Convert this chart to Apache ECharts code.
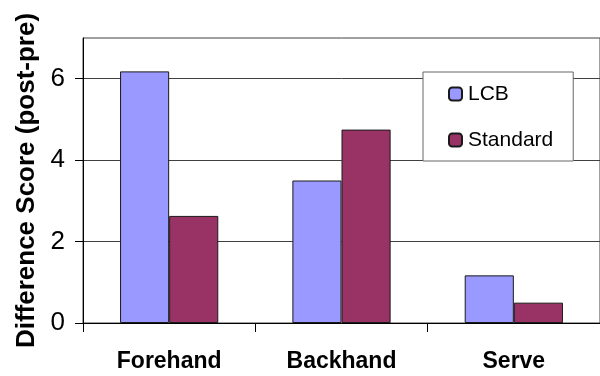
<!DOCTYPE html>
<html>
<head>
<meta charset="utf-8">
<script src="https://cdn.jsdelivr.net/npm/echarts@6/dist/echarts.min.js"></script>
<style>
  html, body { margin: 0; padding: 0; background: #fff; }
  #chart { width: 600px; height: 376px; }
</style>
</head>
<body>
<div id="chart"></div>
<script>
// Skill areas and the mean post-minus-pre score change for each coaching method
const categories = ['Forehand', 'Backhand', 'Serve'];
const lcbScores = [6.18, 3.50, 1.17];
const standardScores = [2.63, 4.75, 0.50];
const yTickValues = [0, 2, 4, 6];

const FONT = '"Liberation Sans", Arial, sans-serif';

const chart = echarts.init(document.getElementById('chart'), null, { renderer: 'canvas' });

chart.setOption({
  animation: false,
  backgroundColor: '#ffffff',
  grid: {
    left: 83, right: -1, top: 38, bottom: 53, containLabel: false,
    show: true, borderColor: '#404040', borderWidth: 1, backgroundColor: 'transparent'
  },
  legend: {
    orient: 'vertical',
    left: 423,
    top: 72,
    padding: [11, 20, 10, 25],
    itemGap: 24,
    itemWidth: 13,
    itemHeight: 13,
    backgroundColor: '#ffffff',
    borderColor: '#666666',
    borderWidth: 1,
    borderRadius: 0,
    textStyle: { fontFamily: FONT, fontSize: 21, color: '#000', lineHeight: 22, padding: [0, 0, 0, 1] },
    data: ['LCB', 'Standard']
  },
  xAxis: {
    type: 'category',
    data: categories,
    axisLine: { lineStyle: { color: '#000', width: 1 } },
    axisTick: { show: true, length: 9, lineStyle: { color: '#000' } },
    axisLabel: {
      fontFamily: FONT, fontSize: 23, fontWeight: 'bold', color: '#000', margin: 27
    },
    splitLine: { show: false }
  },
  yAxis: {
    type: 'value',
    min: 0,
    max: 7,
    interval: 2,
    name: 'Difference Score (post-pre)',
    nameLocation: 'middle',
    nameGap: 38,
    nameRotate: 90,
    nameTextStyle: { fontFamily: FONT, fontSize: 26, fontWeight: 'bold', color: '#000' },
    axisLine: { show: true, lineStyle: { color: '#000', width: 1 } },
    axisTick: { show: true, inside: false, length: 8, lineStyle: { color: '#000' }, customValues: yTickValues },
    axisLabel: { fontFamily: FONT, fontSize: 26, color: '#000', margin: 18, customValues: yTickValues },
    splitLine: { show: true, lineStyle: { color: '#404040', width: 1 } }
  },
  series: [
    {
      name: 'LCB',
      type: 'bar',
      data: lcbScores,
      barGap: '0%',
      barCategoryGap: '43%',
      itemStyle: { color: '#9999FF', borderColor: '#1a1a1a', borderWidth: 1 }
    },
    {
      name: 'Standard',
      type: 'bar',
      data: standardScores,
      barGap: '0%',
      barCategoryGap: '43%',
      itemStyle: { color: '#993366', borderColor: '#1a1a1a', borderWidth: 1 }
    }
  ]
});
</script>
</body>
</html>
